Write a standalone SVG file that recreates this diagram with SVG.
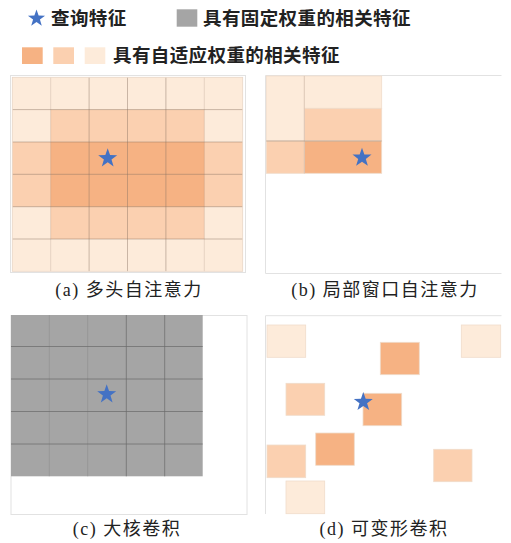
<svg xmlns="http://www.w3.org/2000/svg" width="511" height="543" viewBox="0 0 511 543">
<style>
.lg{font-family:"Noto Sans CJK SC","Noto Sans",sans-serif;font-size:18.5px;font-weight:bold;fill:#222;letter-spacing:0.4px}
.cap{font-family:"Liberation Serif","Noto Sans CJK SC",serif;font-size:18px;fill:#222;letter-spacing:1.5px;text-anchor:middle}
.d{fill:#F6B283}
.m{fill:#FBD0B0}
.l{fill:#FDEBDA}
.cell{stroke:#f0dccb;stroke-width:0.8}
.frame{fill:none;stroke:#e2e2e2;stroke-width:1}
.ga{stroke:#8a7464;stroke-opacity:0.45;stroke-width:1}
.gb{stroke:#8a7464;stroke-opacity:0.2;stroke-width:1}
.gc{stroke:#6a6a6a;stroke-opacity:0.7;stroke-width:1}
.gc2{stroke:#8a8a8a;stroke-opacity:0.5;stroke-width:1}
.star{fill:#4472C4}
</style>
<defs>
<path id="star" d="M0,-10 L2.35,-3.24 L9.51,-3.09 L3.8,1.24 L5.88,8.09 L0,4 L-5.88,8.09 L-3.8,1.24 L-9.51,-3.09 L-2.35,-3.24 Z"/>
</defs>

<g id="legend">
<use href="#star" class="star" transform="translate(36.5,18.5) scale(0.9)"/>
<text class="lg" x="51" y="25">查询特征</text>
<rect x="176.7" y="9.3" width="20.6" height="17.4" fill="#A5A5A5"/>
<text class="lg" x="203" y="25">具有固定权重的相关特征</text>
<rect x="22" y="47.3" width="20.7" height="16.7" class="d"/>
<rect x="53.3" y="47.3" width="20.7" height="16.7" class="m"/>
<rect x="84.7" y="47.3" width="20.6" height="16.7" class="l"/>
<text class="lg" x="113" y="62">具有自适应权重的相关特征</text>
</g>

<g id="panel-a">
<rect class="frame" x="10.5" y="75.5" width="235" height="197"/>
<rect x="12.3" y="77.3" width="230.4" height="194" class="l"/>
<rect x="50.7" y="109.6" width="153.6" height="129.4" class="m"/>
<rect x="12.3" y="142" width="230.4" height="64.7" class="m"/>
<rect x="50.7" y="142" width="153.6" height="64.7" class="d"/>
<line class="gb" x1="50.7" y1="77.3" x2="50.7" y2="271.3"/>
<line class="ga" x1="89.1" y1="77.3" x2="89.1" y2="271.3"/>
<line class="ga" x1="127.5" y1="77.3" x2="127.5" y2="271.3"/>
<line class="ga" x1="165.9" y1="77.3" x2="165.9" y2="271.3"/>
<line class="gb" x1="204.3" y1="77.3" x2="204.3" y2="271.3"/>
<line class="ga" x1="12.3" y1="109.6" x2="242.7" y2="109.6"/>
<line class="ga" x1="12.3" y1="142" x2="242.7" y2="142"/>
<line class="ga" x1="12.3" y1="174.3" x2="242.7" y2="174.3"/>
<line class="ga" x1="12.3" y1="206.7" x2="242.7" y2="206.7"/>
<line class="ga" x1="12.3" y1="239" x2="242.7" y2="239"/>
<rect x="12.3" y="77.3" width="230.4" height="194" fill="none" stroke="#e8d6c6" stroke-width="0.8"/>
<use href="#star" class="star" transform="translate(107.7,158.3)"/>
<text class="cap" x="129" y="296">(a) 多头自注意力</text>
</g>

<g id="panel-b">
<path class="frame" d="M501.5,75.5 H265.5 V273.5 H501.5"/>
<rect x="266.3" y="76" width="38" height="65" class="l cell"/>
<rect x="266.3" y="141" width="38" height="32.3" class="m cell"/>
<rect x="304.3" y="76" width="77.4" height="32.3" class="l cell"/>
<rect x="304.3" y="108.3" width="77.4" height="32.7" class="m cell"/>
<rect x="304.3" y="141" width="77.4" height="32.3" class="d cell"/>
<line class="ga" x1="266.3" y1="141" x2="381.7" y2="141"/>
<line class="gb" x1="304.3" y1="76" x2="304.3" y2="173.3"/>
<use href="#star" class="star" transform="translate(362,157.7)"/>
<text class="cap" x="385" y="296">(b) 局部窗口自注意力</text>
</g>

<g id="panel-c">
<rect class="frame" x="11" y="315.5" width="236" height="199"/>
<rect x="11" y="315" width="191.7" height="161.3" fill="#A5A5A5"/>
<line class="gc2" x1="49.3" y1="315" x2="49.3" y2="476.3"/>
<line class="gc2" x1="87.7" y1="315" x2="87.7" y2="476.3"/>
<line class="gc" x1="126.3" y1="315" x2="126.3" y2="476.3"/>
<line class="gc" x1="164.7" y1="315" x2="164.7" y2="476.3"/>
<line class="gc" x1="11" y1="346.5" x2="202.7" y2="346.5"/>
<line class="gc" x1="11" y1="379" x2="202.7" y2="379"/>
<line class="gc" x1="11" y1="411.5" x2="202.7" y2="411.5"/>
<line class="gc" x1="11" y1="444" x2="202.7" y2="444"/>
<use href="#star" class="star" transform="translate(106.7,394.3)"/>
<text class="cap" x="127" y="535">(c) 大核卷积</text>
</g>

<g id="panel-d">
<path class="frame" d="M501.5,315.7 H265.5 V514"/>
<rect x="267" y="325" width="38.7" height="32.3" class="l cell"/>
<rect x="380.3" y="342.3" width="39" height="32.4" class="d cell"/>
<rect x="461.3" y="325" width="39.4" height="32.3" class="l cell"/>
<rect x="286" y="383.3" width="38.7" height="32" class="m cell"/>
<rect x="363" y="393.3" width="38.7" height="32.4" class="d cell"/>
<rect x="315.7" y="433" width="38.6" height="32.3" class="d cell"/>
<rect x="267" y="445" width="38.7" height="32.7" class="m cell"/>
<rect x="433.7" y="449.3" width="38.3" height="32.4" class="m cell"/>
<rect x="286" y="481" width="38.7" height="32.7" class="l cell"/>
<use href="#star" class="star" transform="translate(363.3,402)"/>
<text class="cap" x="384" y="535">(d) 可变形卷积</text>
</g>
</svg>
